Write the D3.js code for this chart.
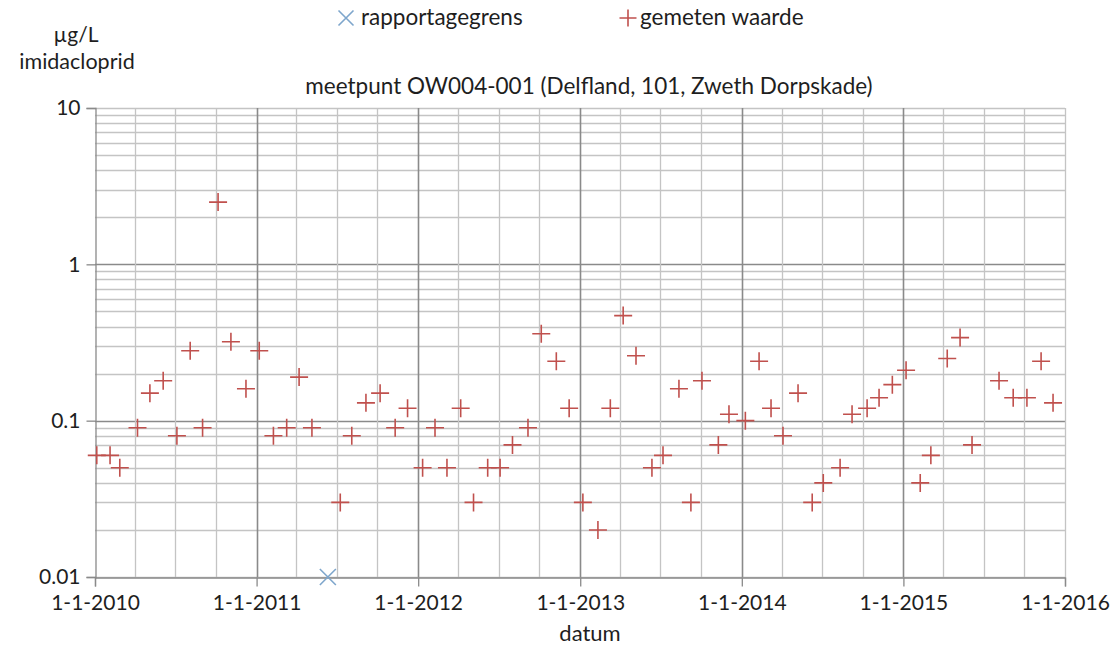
<!DOCTYPE html>
<html>
<head>
<meta charset="utf-8">
<script src="https://cdn.jsdelivr.net/npm/d3@7"></script>
<style>
  html, body { margin: 0; padding: 0; background: #fff; }
  svg { display: block; font-family: Lato, "Noto Sans", sans-serif; }
</style>
</head>
<body>
<svg id="chart" width="1120" height="651"></svg>
<script>
// Imidacloprid measurements at OW004-001 (µg/L)
const sampleDates = [
  "2010-01-05","2010-02-04","2010-02-26","2010-04-07","2010-05-05","2010-06-04",
  "2010-07-05","2010-08-04","2010-09-01","2010-10-06","2010-11-04","2010-12-08",
  "2011-01-07","2011-02-08","2011-03-10","2011-04-07","2011-05-06","2011-07-09",
  "2011-08-04","2011-09-05","2011-10-07","2011-11-10","2011-12-08",
  "2012-01-11","2012-02-08","2012-03-06","2012-04-06","2012-05-05","2012-06-06",
  "2012-07-04","2012-08-01","2012-09-05","2012-10-05","2012-11-08","2012-12-07",
  "2013-01-07","2013-02-10","2013-03-10","2013-04-08","2013-05-07","2013-06-12",
  "2013-07-07","2013-08-12","2013-09-08","2013-10-03","2013-11-09","2013-12-03",
  "2014-01-09","2014-02-09","2014-03-08","2014-04-04","2014-05-08","2014-06-09",
  "2014-07-04","2014-08-11","2014-09-07","2014-10-11","2014-11-07","2014-12-07",
  "2015-01-07","2015-02-08","2015-03-04","2015-04-10","2015-05-09","2015-06-05",
  "2015-08-05","2015-09-06","2015-10-07","2015-11-08","2015-12-05"
];
const measuredValues = [
  0.06, 0.06, 0.05, 0.09, 0.15, 0.18,
  0.08, 0.28, 0.09, 2.5, 0.32, 0.16,
  0.28, 0.08, 0.09, 0.19, 0.09, 0.03,
  0.08, 0.13, 0.15, 0.09, 0.12,
  0.05, 0.09, 0.05, 0.12, 0.03, 0.05,
  0.05, 0.07, 0.09, 0.36, 0.24, 0.12,
  0.03, 0.02, 0.12, 0.47, 0.26, 0.05,
  0.06, 0.16, 0.03, 0.18, 0.07, 0.11,
  0.10, 0.24, 0.12, 0.08, 0.15, 0.03,
  0.04, 0.05, 0.11, 0.12, 0.14, 0.17,
  0.21, 0.04, 0.06, 0.25, 0.34, 0.07,
  0.18, 0.14, 0.14, 0.24, 0.13
];
// Values below the reporting limit
const limitDates = ["2011-06-11"];
const limitValues = [0.01];

const yTickValues = [10, 1, 0.1, 0.01];
const yTickLabels = ["10", "1", "0.1", "0.01"];
const xTickYears = [2010, 2011, 2012, 2013, 2014, 2015, 2016];

const titleText = "meetpunt OW004-001 (Delfland, 101, Zweth Dorpskade)";
const legendLabels = ["rapportagegrens", "gemeten waarde"];

const parse = d3.timeParse("%Y-%m-%d");
const measured = sampleDates.map((d, i) => ({ date: parse(d), value: measuredValues[i] }));
const limits = limitDates.map((d, i) => ({ date: parse(d), value: limitValues[i] }));

const svg = d3.select("#chart");
const plotLeft = 95, plotRight = 1065, plotTop = 108, plotBottom = 577;

const x = d3.scaleTime()
  .domain([new Date(2010, 0, 1), new Date(2016, 0, 1)])
  .range([plotLeft, plotRight]);
const y = d3.scaleLog().domain([0.01, 10]).range([plotBottom, plotTop]);

const redCol = "#c0504d", blueCol = "#7ea6cc";
const minorGrid = "#c4c4c4", majorGrid = "#8a8a8a";
const textCol = "#1e1e1e";

// Horizontal grid: every 1..9 × decade
const hVals = [];
[0.01, 0.1, 1].forEach(dec => { for (let k = 1; k <= 9; k++) hVals.push(+(k * dec).toPrecision(3)); });
hVals.push(10);
const g = svg.append("g");
g.selectAll("line.h").data(hVals).join("line")
  .attr("x1", plotLeft).attr("x2", plotRight)
  .attr("y1", d => Math.round(y(d)) + 0.5).attr("y2", d => Math.round(y(d)) + 0.5)
  .attr("stroke", d => d === 1 || d === 0.1 ? majorGrid : minorGrid)
  .attr("stroke-width", 1.3);

// Vertical grid: quarters, with year boundaries darker
const quarters = d3.timeMonth.every(3).range(new Date(2010, 3, 1), new Date(2016, 0, 2));
g.selectAll("line.v").data(quarters).join("line")
  .attr("y1", plotTop).attr("y2", plotBottom)
  .attr("x1", d => Math.round(x(d)) + 0.5).attr("x2", d => Math.round(x(d)) + 0.5)
  .attr("stroke", d => d.getMonth() === 0 && d.getFullYear() < 2016 ? majorGrid : minorGrid)
  .attr("stroke-width", d => d.getMonth() === 0 && d.getFullYear() < 2016 ? 1.6 : 1.3);

// Axes
const yAxis = d3.axisLeft(y).tickValues(yTickValues)
  .tickFormat((d, i) => yTickLabels[i]).tickSize(9).tickPadding(6);
const yg = svg.append("g").attr("transform", `translate(${plotLeft + 0.5},0)`).call(yAxis);
yg.select(".domain").attr("stroke", majorGrid).attr("stroke-width", 1.3);
yg.selectAll(".tick line").attr("stroke", majorGrid).attr("stroke-width", 1.3);
yg.selectAll(".tick text").attr("font-size", 21).attr("fill", textCol)
  .attr("font-family", "Lato, sans-serif");

const xAxis = d3.axisBottom(x)
  .tickValues(xTickYears.map(yr => new Date(yr, 0, 1)))
  .tickFormat(d3.timeFormat("1-1-%Y")).tickSize(9).tickPadding(9);
const xg = svg.append("g").attr("transform", `translate(0,${plotBottom + 0.5})`).call(xAxis);
xg.select(".domain").attr("stroke", majorGrid).attr("stroke-width", 1.3);
xg.selectAll(".tick line").attr("stroke", majorGrid).attr("stroke-width", 1.3);
xg.selectAll(".tick text").attr("font-size", 21).attr("fill", textCol)
  .attr("font-family", "Lato, sans-serif");

// Marker shapes
function plusPath(cx, cy, r) { return `M${cx - r},${cy}H${cx + r}M${cx},${cy - r}V${cy + r}`; }
function crossPath(cx, cy, r) { return `M${cx - r},${cy - r}L${cx + r},${cy + r}M${cx - r},${cy + r}L${cx + r},${cy - r}`; }

svg.append("g").selectAll("path").data(limits).join("path")
  .attr("d", d => crossPath(x(d.date), y(d.value), 8))
  .attr("stroke", blueCol).attr("stroke-width", 1.6).attr("fill", "none");

svg.append("g").selectAll("path").data(measured).join("path")
  .attr("d", d => plusPath(x(d.date), y(d.value), 9))
  .attr("stroke", redCol).attr("stroke-width", 1.6).attr("fill", "none");

// Titles
svg.append("text").attr("x", 589).attr("y", 94).attr("text-anchor", "middle")
  .attr("font-size", 22.5).attr("fill", textCol).text(titleText);
svg.append("text").attr("x", 590).attr("y", 641).attr("text-anchor", "middle")
  .attr("font-size", 22).attr("fill", textCol).text("datum");
svg.append("text").attr("x", 76).attr("y", 42).attr("text-anchor", "middle")
  .attr("font-size", 21).attr("fill", textCol).text("µg/L");
svg.append("text").attr("x", 77).attr("y", 69).attr("text-anchor", "middle")
  .attr("font-size", 21.5).attr("fill", textCol).text("imidacloprid");

// Legend
const lg = svg.append("g");
lg.append("path").attr("d", crossPath(346, 18, 7.5)).attr("stroke", blueCol)
  .attr("stroke-width", 1.6).attr("fill", "none");
lg.append("text").attr("x", 361).attr("y", 25).attr("font-size", 22.5).attr("fill", textCol)
  .text(legendLabels[0]);
lg.append("path").attr("d", plusPath(628, 18, 8.5)).attr("stroke", redCol)
  .attr("stroke-width", 1.6).attr("fill", "none");
lg.append("text").attr("x", 640).attr("y", 25).attr("font-size", 22.5).attr("fill", textCol)
  .text(legendLabels[1]);
</script>
</body>
</html>
